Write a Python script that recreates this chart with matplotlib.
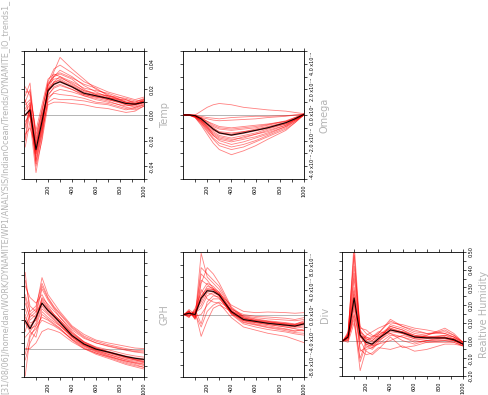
import numpy as np
import matplotlib
matplotlib.use('Agg')
import matplotlib.pyplot as plt

# pressure levels (hPa) on the horizontal axis
levels = [10, 50, 100, 150, 200, 250, 300, 400, 500, 600, 700, 850, 925, 1000]

# Temp trends, in units of 0.01
temp_mean = [0.0, 0.4, -2.7, -0.5, 1.9, 2.4, 2.6, 2.2, 1.7, 1.5, 1.3, 0.9, 0.85, 1.0]
temp_members = [
    [0.5, 1.0, -3.0, -0.8, 2.2, 3.4, 4.5, 3.6, 2.8, 2.0, 1.6, 1.0, 0.9, 1.1],
    [-1.0, 0.5, -3.5, -1.0, 2.0, 3.0, 3.5, 3.0, 2.3, 1.8, 1.4, 0.8, 0.7, 1.0],
    [1.5, 2.5, -2.0, 0.2, 2.5, 3.0, 3.2, 2.8, 2.0, 1.6, 1.3, 1.2, 1.0, 1.2],
    [-2.5, -0.5, -4.5, -1.8, 1.5, 2.2, 2.4, 2.0, 1.6, 1.4, 1.2, 0.8, 0.6, 0.9],
    [2.2, 1.5, -1.2, 0.8, 2.8, 3.2, 3.0, 2.4, 1.9, 1.6, 1.5, 1.1, 1.0, 1.3],
    [0.0, 0.2, -3.8, -1.5, 1.2, 1.8, 2.0, 1.8, 1.5, 1.3, 1.1, 0.6, 0.5, 0.8],
    [-1.5, -1.0, -2.5, -0.3, 1.8, 2.5, 2.8, 2.3, 1.8, 1.5, 1.2, 0.9, 0.8, 1.0],
    [1.0, 2.0, -1.8, 0.5, 2.4, 2.8, 2.9, 2.5, 1.9, 1.7, 1.5, 1.3, 1.1, 1.2],
    [-0.5, 0.0, -3.2, -1.2, 1.0, 1.3, 1.2, 1.2, 1.1, 0.9, 0.8, 0.4, 0.6, 0.8],
    [0.8, 1.2, -2.3, -0.2, 2.0, 2.6, 2.7, 2.2, 1.6, 1.4, 1.4, 1.0, 0.9, 1.1],
    [-2.0, 0.3, -4.0, -2.0, 0.8, 1.0, 1.0, 0.9, 0.8, 0.6, 0.5, 0.2, 0.3, 0.7],
    [1.8, 1.8, -1.5, 0.3, 2.6, 3.6, 3.9, 3.3, 2.6, 2.2, 1.8, 1.4, 1.2, 1.4],
    [0.3, 0.8, -2.8, -0.6, 1.6, 2.1, 2.3, 2.0, 1.5, 1.2, 1.0, 0.7, 0.8, 1.0],
    [-0.8, 0.6, -3.0, -0.9, 1.9, 2.6, 3.0, 2.6, 2.1, 1.9, 1.7, 1.2, 0.9, 1.1],
    [1.2, -0.2, -2.2, 0.0, 1.4, 1.7, 1.6, 1.5, 1.3, 1.0, 0.9, 0.5, 0.4, 0.7],
    [-1.8, 0.9, -3.6, -1.4, 2.3, 3.1, 3.3, 2.9, 2.4, 2.1, 1.5, 1.0, 0.8, 1.2],
]

# Omega trends, in units of 1e-4
omega_mean = [0, 0, -0.05, -0.3, -0.7, -1.1, -1.4, -1.57, -1.4, -1.2, -1.0, -0.6, -0.3, 0.05]
omega_members = [
    [0, 0, 0.0, 0.3, 0.6, 0.8, 0.9, 0.8, 0.6, 0.5, 0.4, 0.3, 0.2, 0.1],
    [0, 0, -0.1, -0.2, -0.3, -0.4, -0.45, -0.4, -0.35, -0.3, -0.2, -0.1, 0.0, 0.05],
    [0, 0, -0.1, -0.5, -1.0, -1.6, -2.0, -2.3, -2.1, -1.8, -1.5, -0.9, -0.5, 0.0],
    [0, 0, -0.2, -0.8, -1.5, -2.2, -2.7, -3.1, -2.8, -2.4, -1.9, -1.2, -0.6, 0.05],
    [0, 0, -0.05, -0.3, -0.6, -0.9, -1.1, -1.2, -1.1, -1.0, -0.8, -0.5, -0.3, 0.05],
    [0, 0, -0.1, -0.4, -0.9, -1.3, -1.6, -1.8, -1.6, -1.4, -1.1, -0.7, -0.4, 0.0],
    [0, 0, -0.15, -0.6, -1.2, -1.8, -2.2, -2.5, -2.3, -2.0, -1.6, -1.0, -0.5, 0.05],
    [0, 0, 0.0, -0.2, -0.5, -0.7, -0.9, -1.0, -0.9, -0.8, -0.7, -0.5, -0.2, 0.1],
    [0, 0, -0.1, -0.4, -0.8, -1.2, -1.4, -1.5, -1.3, -1.2, -1.0, -0.7, -0.3, 0.05],
    [0, 0, -0.2, -0.7, -1.3, -1.9, -2.4, -2.7, -2.5, -2.1, -1.7, -1.1, -0.6, 0.0],
    [0, 0, -0.05, -0.25, -0.5, -0.8, -1.0, -1.1, -1.0, -0.9, -0.75, -0.45, -0.2, 0.05],
    [0, 0, -0.1, -0.5, -1.0, -1.4, -1.7, -1.9, -1.8, -1.5, -1.2, -0.8, -0.4, 0.0],
    [0, 0, -0.1, -0.3, -0.7, -1.0, -1.3, -1.4, -1.3, -1.1, -0.9, -0.6, -0.3, 0.05],
    [0, 0, -0.15, -0.6, -1.1, -1.6, -1.9, -2.1, -1.9, -1.7, -1.4, -0.9, -0.4, 0.0],
    [0, 0, -0.05, -0.1, -0.2, -0.25, -0.3, -0.2, -0.15, -0.1, -0.1, -0.05, 0.0, 0.05],
    [0, 0, -0.1, -0.45, -0.9, -1.5, -1.8, -2.0, -1.7, -1.5, -1.3, -0.8, -0.35, 0.05],
]

# GPH trends
gph_mean = [0.49, 0.35, 0.55, 0.80, 0.67, 0.57, 0.46, 0.23, 0.08, -0.01, -0.06, -0.14, -0.17, -0.19]
gph_members = [
    [1.34, 0.6, 0.7, 1.25, 0.95, 0.8, 0.65, 0.4, 0.25, 0.15, 0.1, 0.04, 0.01, 0.0],
    [-0.48, 0.2, 0.4, 0.55, 0.5, 0.42, 0.35, 0.15, 0.0, -0.1, -0.17, -0.28, -0.32, -0.36],
    [0.9, 0.5, 0.6, 1.05, 0.85, 0.7, 0.55, 0.3, 0.12, 0.02, -0.05, -0.14, -0.18, -0.2],
    [0.2, 0.3, 0.45, 0.75, 0.62, 0.52, 0.42, 0.2, 0.05, -0.05, -0.12, -0.22, -0.26, -0.3],
    [1.1, 0.9, 0.8, 0.95, 0.75, 0.6, 0.5, 0.28, 0.12, 0.03, -0.02, -0.1, -0.13, -0.15],
    [0.0, 0.0, 0.1, 0.3, 0.35, 0.32, 0.28, 0.12, 0.0, -0.08, -0.14, -0.22, -0.25, -0.28],
    [0.7, 0.45, 0.5, 0.85, 0.7, 0.58, 0.48, 0.25, 0.1, 0.0, -0.06, -0.15, -0.19, -0.22],
    [0.3, 0.6, 0.55, 0.9, 0.78, 0.66, 0.55, 0.33, 0.18, 0.1, 0.04, -0.03, -0.06, -0.08],
    [-0.2, 0.1, 0.3, 0.6, 0.52, 0.44, 0.36, 0.16, 0.02, -0.08, -0.15, -0.26, -0.3, -0.33],
    [0.6, 0.35, 0.4, 0.7, 0.6, 0.5, 0.4, 0.2, 0.06, -0.03, -0.1, -0.2, -0.24, -0.27],
    [1.2, 0.75, 0.65, 1.1, 0.88, 0.72, 0.6, 0.36, 0.2, 0.1, 0.05, -0.02, -0.05, -0.06],
    [0.45, 0.3, 0.2, 0.65, 0.55, 0.47, 0.4, 0.22, 0.08, -0.02, -0.08, -0.17, -0.2, -0.23],
    [0.8, 0.55, 0.65, 0.8, 0.66, 0.55, 0.45, 0.22, 0.07, -0.04, -0.1, -0.19, -0.22, -0.25],
    [-0.1, 0.25, 0.35, 0.5, 0.45, 0.4, 0.33, 0.17, 0.04, -0.06, -0.13, -0.24, -0.28, -0.33],
    [0.95, 0.65, 0.75, 1.15, 0.9, 0.74, 0.62, 0.38, 0.22, 0.13, 0.07, 0.0, -0.03, -0.04],
    [0.55, 0.4, 0.5, 0.88, 0.72, 0.6, 0.5, 0.27, 0.11, 0.01, -0.06, -0.16, -0.2, -0.24],
]

# Div trends, in units of 1e-7
div_mean = [0, 0.2, 0, 2.6, 3.8, 3.7, 3.1, 0.45, -0.8, -1.1, -1.4, -1.7, -1.85, -1.5]
div_members = [
    [0, 0.5, -0.5, 9.8, 6.0, 5.0, 4.0, 1.0, -0.5, -1.0, -1.2, -1.5, -1.7, -1.3],
    [0, -0.3, 0.5, -3.5, -1.0, 1.0, 1.5, 0.5, -0.6, -1.0, -1.3, -1.5, -1.6, -1.4],
    [0, 0.6, -0.8, 5.0, 7.5, 6.5, 5.0, 1.2, -0.3, -0.7, -1.0, -1.3, -1.5, -1.2],
    [0, 0.2, 0.3, 1.0, 3.0, 3.5, 3.0, 0.3, -1.2, -1.6, -2.0, -2.4, -2.7, -2.3],
    [0, -0.5, 1.0, 3.5, 5.0, 4.5, 3.5, 0.6, -0.9, -1.3, -1.6, -2.0, -2.2, -2.0],
    [0, 0.3, -0.3, 0.0, 1.5, 2.5, 2.5, 0.5, -0.2, -0.5, -0.7, -0.9, -1.0, -0.8],
    [0, 0.8, 0.0, 6.5, 5.5, 4.2, 3.2, 0.2, -1.0, -1.5, -1.8, -2.3, -2.6, -2.6],
    [0, -0.2, 0.6, 2.0, 4.0, 4.0, 3.3, 1.5, 0.5, 0.3, 0.4, 0.3, 0.2, 0.3],
    [0, 0.4, -0.6, 4.0, 2.5, 2.0, 1.8, -0.5, -2.0, -2.5, -3.0, -3.5, -4.0, -4.5],
    [0, 0.1, 0.2, 2.8, 4.5, 4.2, 3.6, 0.7, -0.6, -0.9, -1.1, -1.4, -1.6, -1.0],
    [0, -0.4, 0.8, -1.5, 2.0, 3.0, 2.8, 0.0, -1.5, -2.0, -2.4, -2.8, -3.1, -3.3],
    [0, 0.5, -0.4, 7.5, 6.5, 5.5, 4.5, 1.0, -0.4, -0.8, -1.1, -1.6, -1.9, -1.5],
    [0, 0.0, 0.4, 1.5, 3.5, 3.2, 2.6, 0.2, -0.8, -1.2, -1.4, -1.8, -2.0, -1.8],
    [0, 0.3, -0.2, 3.0, 4.2, 4.0, 3.4, 0.4, -1.0, -1.3, -1.6, -2.0, -2.3, -2.6],
    [0, -0.1, 0.1, -2.0, 0.5, 1.5, 2.0, 0.8, 0.0, -0.3, -0.4, -0.6, -0.8, -0.5],
    [0, 0.6, -0.7, 5.5, 4.8, 4.0, 3.0, 0.1, -1.3, -1.7, -2.1, -2.6, -2.9, -3.0],
]

# Relative humidity trends
rh_mean = [0, 0.02, 0.24, 0.03, -0.01, -0.02, 0.01, 0.06, 0.045, 0.02, 0.015, 0.015, 0.005, -0.02]
rh_members = [
    [0, 0.03, 0.55, 0.05, 0.02, 0.0, 0.03, 0.08, 0.06, 0.03, 0.02, 0.03, 0.01, -0.02],
    [0, 0.01, 0.12, -0.17, -0.05, -0.04, -0.02, 0.03, 0.02, 0.0, -0.01, 0.0, -0.01, -0.03],
    [0, 0.04, 0.42, 0.08, 0.04, 0.02, 0.04, 0.12, 0.08, 0.05, 0.04, 0.05, 0.03, -0.01],
    [0, 0.0, 0.18, -0.05, -0.08, -0.07, -0.04, -0.05, -0.03, -0.06, -0.05, -0.02, -0.02, -0.03],
    [0, 0.02, 0.3, 0.06, 0.01, -0.01, 0.02, 0.07, 0.05, 0.02, 0.02, 0.02, 0.0, -0.02],
    [0, 0.05, 0.48, 0.02, -0.02, -0.03, 0.0, 0.09, 0.07, 0.04, 0.03, 0.07, 0.04, -0.01],
    [0, -0.01, 0.1, -0.1, 0.0, 0.02, 0.05, 0.04, 0.0, -0.02, 0.0, 0.01, 0.0, -0.02],
    [0, 0.02, 0.35, 0.04, -0.03, -0.05, -0.01, 0.06, 0.05, 0.03, 0.02, 0.01, 0.01, -0.02],
    [0, 0.03, 0.22, -0.02, 0.03, 0.05, 0.07, 0.1, 0.09, 0.07, 0.06, 0.04, 0.02, -0.01],
    [0, 0.01, 0.15, 0.0, -0.06, -0.08, -0.05, 0.02, -0.04, -0.03, -0.01, -0.01, -0.01, -0.03],
    [0, 0.03, 0.38, 0.07, 0.06, 0.03, 0.02, 0.05, 0.04, 0.01, 0.01, 0.03, 0.02, -0.02],
    [0, 0.02, 0.26, -0.06, -0.04, -0.02, 0.01, 0.08, 0.06, 0.02, 0.03, 0.06, 0.03, -0.01],
    [0, 0.0, 0.2, 0.05, 0.0, -0.03, -0.02, 0.0, 0.03, 0.01, 0.0, 0.0, 0.0, -0.03],
    [0, 0.04, 0.5, 0.03, 0.01, 0.0, 0.03, 0.07, 0.04, 0.02, 0.02, 0.02, 0.01, -0.02],
    [0, 0.01, 0.14, -0.12, -0.02, -0.04, 0.0, 0.04, 0.02, -0.01, 0.0, 0.02, 0.0, -0.02],
    [0, 0.03, 0.28, 0.02, 0.02, 0.01, 0.04, 0.11, 0.08, 0.06, 0.04, 0.04, 0.02, -0.01],
]

x_labels = ['200', '400', '600', '800', '1000']

W, H = 488, 395
fig = plt.figure(figsize=(W / 100, H / 100), dpi=100)
fig.patch.set_facecolor('white')

grey = '#b4b4b4'


def panel(box, mean, members, scale, ylim, ystep, ylabels, name):
    x0, y0, x1, y1 = box
    ax = fig.add_axes([x0 / W, 1 - y1 / H, (x1 - x0) / W, (y1 - y0) / H])
    ax.axhline(0, color='#a8a8a8', lw=0.6, zorder=1)
    for m in members:
        ax.plot(levels, np.array(m) * scale, color='red', lw=0.6, alpha=0.5, zorder=2)
    # dark red band round the mean, then the mean itself
    ax.plot(levels, np.array(mean) * scale, color='#d00000', lw=1.4, alpha=0.5, zorder=3)
    ax.plot(levels, np.array(mean) * scale, color='black', lw=0.7, zorder=4)

    ax.set_xlim(0, 1000)
    ax.set_ylim(ylim[0] * scale, ylim[1] * scale)

    xt = np.arange(100, 1001, 100)
    ax.set_xticks(xt)
    ax.set_xticklabels([x_labels[v // 200 - 1] if v % 200 == 0 else '' for v in xt])

    n = int(round((ylim[1] - ylim[0]) / ystep))
    yt = [ylim[0] + ystep * k for k in range(n + 1)]
    ax.set_yticks([v * scale for v in yt])
    ax.set_yticklabels([ylabels.get(round(v, 6), '') for v in yt])

    ax.tick_params(axis='both', which='both', direction='out', length=2.5, width=0.5,
                   labelsize=3.5, pad=1.5, top=True, bottom=True, left=True, right=True,
                   labelleft=False, labelright=True, labelbottom=True, labeltop=False)
    for lbl in ax.get_xticklabels():
        lbl.set_rotation(90)
    for lbl in ax.get_yticklabels():
        lbl.set_rotation(90)
        lbl.set_va('center')
    for s in ax.spines.values():
        s.set_linewidth(0.6)

    fig.text((x1 + 21) / W, 1 - (y0 + y1) / 2 / H, name, rotation=90,
             ha='center', va='center', color=grey, fontsize=7)
    return ax


def sci(v, e):
    sup = str.maketrans('-0123456789', '⁻⁰¹²³⁴⁵⁶⁷⁸⁹')
    return f'{v:.1f} x10' + str(e).translate(sup)


panel((24, 51, 144, 179), temp_mean, temp_members, 0.01, (-5, 5), 1,
      {-4: '-0.04', -2: '-0.02', 0: '0.00', 2: '0.02', 4: '0.04'}, 'Temp')
panel((183, 51, 304, 179), omega_mean, omega_members, 1e-4, (-5, 5), 1,
      {-4: sci(-4, -4), -2: sci(-2, -4), 0: sci(0, 0), 2: sci(2, -4), 4: sci(4, -4)}, 'Omega')
panel((24, 252, 144, 377), gph_mean, gph_members, 1, (-0.5, 1.7), 0.2,
      {-0.4: '-0.40', 0.0: '0.00', 0.4: '0.40', 0.8: '0.80', 1.2: '1.20', 1.6: '1.60'}, 'GPH')
panel((183, 252, 304, 377), div_mean, div_members, 1e-7, (-10, 10), 2,
      {-8: sci(-8, -7), -4: sci(-4, -7), 0: sci(0, 0), 4: sci(4, -7), 8: sci(8, -7)}, 'Div')
panel((342, 252, 463, 376), rh_mean, rh_members, 1, (-0.2, 0.5), 0.05,
      {-0.2: '-0.20', -0.1: '-0.10', 0.0: '0.00', 0.1: '0.10', 0.2: '0.20',
       0.3: '0.30', 0.4: '0.40', 0.5: '0.50'}, 'Realtive Humidity')

fig.text(5 / W, 1 / H,
         '[31/08/06]/home/dan/WORK/DYNAMITE/WP1/ANALYSIS/IndianOcean/Trends/DYNAMITE_IO_trends1_',
         rotation=90, rotation_mode='anchor', ha='left', va='center', color=grey, fontsize=5.75)

fig.savefig('out.png', dpi=100)
